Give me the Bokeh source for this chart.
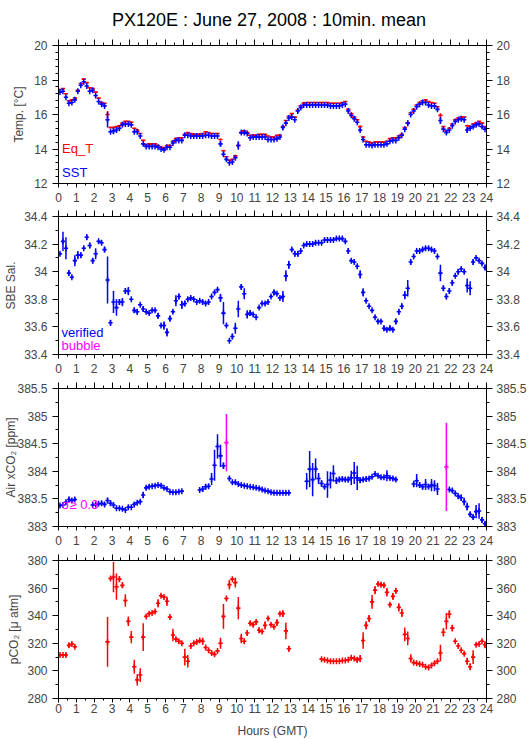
import math
from bokeh.plotting import figure
from bokeh.layouts import column
from bokeh.models import (ColumnDataSource, Range1d, LinearAxis, FixedTicker,
                          Label, NumeralTickFormatter)
from bokeh.embed import file_html
from bokeh.resources import INLINE

N = float("nan")
FONT = "Liberation Sans"

# ---------------- data (10-minute means, bin centres in minutes GMT) -------------
TIME_MIN = list(range(5, 1440, 10))
HOUR_TICKS = list(range(0, 25))

EQT = [
    17.45, 17.50, 17.20, 16.80, 16.85, 16.95,
    17.40, 17.80, 18.05, 17.85, 17.55, 17.50,
    17.30, 16.95, 16.70, 16.65, 16.00, 15.25,
    15.25, 15.30, 15.35, 15.50, 15.60, 15.60,
    15.55, 15.20, 15.10, 14.90, 14.50, 14.25,
    14.30, 14.30, 14.30, 14.20, 14.10, 14.05,
    14.20, 14.20, 14.45, 14.60, 14.65, 14.65,
    14.85, 14.95, 14.90, 14.85, 14.85, 14.85,
    14.90, 15.00, 14.95, 14.90, 14.90, 14.90,
    14.55, 13.90, 13.55, 13.35, 13.40, 13.60,
    14.20, 14.95, 15.05, 14.95, 14.80, 14.80,
    14.80, 14.85, 14.85, 14.85, 14.75, 14.70,
    14.70, 14.80, 14.80, 15.30, 15.65, 15.90,
    16.05, 15.85, 16.25, 16.50, 16.65, 16.70,
    16.70, 16.70, 16.70, 16.70, 16.70, 16.70,
    16.70, 16.65, 16.65, 16.65, 16.65, 16.70,
    16.75, 16.30, 16.05, 15.85, 15.70, 15.30,
    14.70, 14.45, 14.40, 14.35, 14.40, 14.40,
    14.40, 14.40, 14.45, 14.60, 14.65, 14.65,
    14.75, 14.85, 15.25, 15.50, 16.10, 16.30,
    16.55, 16.70, 16.80, 16.85, 16.75, 16.70,
    16.65, 16.45, 15.95, 15.30, 15.05, 15.20,
    15.45, 15.70, 15.80, 15.85, 15.85, 15.35,
    15.30, 15.45, 15.50, 15.60, 15.50, 15.30,
]
EQT_SD = [
    .03, .03, .03, .03, .03, .03,  .03, .03, .03, .03, .03, .03,
    .03, .03, .03, .03, .20, .06,  .05, .03, .03, .03, .03, .03,
    .03, .03, .03, .03, .03, .03,  .03, .03, .03, .03, .03, .03,
    .03, .03, .03, .03, .03, .03,  .03, .03, .03, .03, .03, .03,
    .03, .03, .03, .03, .03, .03,  .06, .05, .03, .03, .03, .03,
    .12, .03, .03, .03, .03, .03,  .03, .03, .03, .03, .03, .03,
    .03, .03, .03, .08, .03, .03,  .03, .03, .05, .03, .03, .03,
    .03, .03, .03, .03, .03, .03,  .03, .03, .03, .03, .03, .03,
    .03, .05, .03, .03, .03, .06,  .05, .03, .03, .03, .03, .03,
    .03, .03, .03, .03, .03, .03,  .03, .03, .03, .05, .03, .03,
    .03, .03, .03, .03, .03, .03,  .03, .03, .12, .03, .03, .03,
    .03, .03, .03, .03, .03, .06,  .05, .03, .03, .03, .03, .03,
]
SST = [
    17.30, 17.35, 17.00, 16.65, 16.70, 16.85,
    17.35, 17.70, 17.90, 17.65, 17.35, 17.40,
    17.10, 16.75, 16.60, 16.50, 15.70, 15.00,
    15.05, 15.10, 15.20, 15.40, 15.45, 15.45,
    15.40, 15.00, 15.00, 14.75, 14.30, 14.15,
    14.15, 14.15, 14.15, 14.10, 14.00, 13.95,
    14.10, 14.10, 14.35, 14.50, 14.50, 14.50,
    14.80, 14.80, 14.75, 14.75, 14.75, 14.75,
    14.75, 14.80, 14.80, 14.75, 14.75, 14.75,
    14.30, 13.70, 13.40, 13.20, 13.25, 13.50,
    14.20, 14.95, 14.95, 14.90, 14.65, 14.70,
    14.70, 14.70, 14.70, 14.70, 14.55, 14.55,
    14.55, 14.60, 14.70, 15.25, 15.50, 15.80,
    15.85, 15.70, 16.20, 16.40, 16.55, 16.55,
    16.55, 16.55, 16.55, 16.55, 16.55, 16.55,
    16.55, 16.50, 16.50, 16.50, 16.50, 16.55,
    16.60, 16.20, 15.95, 15.75, 15.55, 15.10,
    14.55, 14.25, 14.25, 14.20, 14.25, 14.25,
    14.25, 14.25, 14.30, 14.45, 14.50, 14.50,
    14.65, 14.80, 15.15, 15.50, 16.00, 16.20,
    16.45, 16.60, 16.70, 16.70, 16.55, 16.50,
    16.50, 16.30, 15.65, 15.15, 14.95, 15.10,
    15.35, 15.60, 15.70, 15.75, 15.70, 15.10,
    15.20, 15.30, 15.40, 15.45, 15.30, 15.15,
]
SST_SD = [
    .04, .04, .06, .04, .04, .05,  .08, .06, .06, .08, .04, .04,
    .06, .04, .04, .04, .45, .05,  .20, .10, .06, .05, .05, .05,
    .05, .05, .05, .04, .05, .04,  .04, .04, .04, .04, .04, .04,
    .04, .04, .08, .05, .04, .04,  .04, .04, .04, .04, .04, .04,
    .04, .04, .04, .04, .04, .04,  .15, .12, .08, .04, .08, .06,
    .25, .06, .05, .04, .04, .04,  .04, .04, .04, .04, .04, .04,
    .04, .06, .05, .12, .08, .05,  .04, .04, .12, .05, .04, .04,
    .04, .04, .04, .04, .04, .04,  .04, .04, .04, .04, .04, .04,
    .04, .08, .05, .06, .04, .10,  .10, .04, .04, .04, .04, .04,
    .04, .04, .04, .04, .04, .04,  .04, .06, .06, .15, .06, .04,
    .04, .04, .04, .04, .04, .04,  .04, .06, .20, .05, .04, .05,
    .04, .04, .04, .04, .04, .15,  .10, .05, .05, .05, .05, .04,
]

SAL = [
    34.13, 34.22, 34.17, 33.99, 33.96, 34.08,
    34.12, 34.12, 34.17, 34.25, 34.19, 34.08,
    34.13, 34.22, 34.21, 34.16, 33.94, 33.63,
    33.78, 33.74, 33.78, 33.78, 33.86, 33.86,
    33.80, 33.72, 33.71, 33.76, 33.73, 33.71,
    33.70, 33.72, 33.72, 33.68, 33.61, 33.61,
    33.56, 33.66, 33.71, 33.79, 33.82, 33.76,
    33.77, 33.80, 33.81, 33.80, 33.78, 33.79,
    33.78, 33.77, 33.78, 33.82, 33.85, 33.87,
    33.81, 33.70, 33.61, 33.50, 33.53, 33.59,
    33.73, 33.89, 33.84, 33.69, 33.70, 33.69,
    33.67, 33.74, 33.77, 33.77, 33.78, 33.82,
    33.85, 33.84, 33.81, 33.82, 33.97, 34.05,
    34.16, 34.13, 34.13, 34.15, 34.19, 34.20,
    34.20, 34.20, 34.21, 34.21, 34.21, 34.23,
    34.23, 34.23, 34.23, 34.24, 34.24, 34.24,
    34.22, 34.15, 34.08, 34.07, 34.04, 33.98,
    33.85, 33.79, 33.75, 33.72, 33.67, 33.64,
    33.64, 33.59, 33.58, 33.59, 33.58, 33.64,
    33.71, 33.75, 33.83, 33.88, 34.07, 34.11,
    34.15, 34.15, 34.16, 34.17, 34.17, 34.16,
    34.15, 34.11, 33.99, 33.88, 33.82, 33.86,
    33.92, 33.97, 34.00, 34.02, 34.00, 33.90,
    33.88, 34.07, 34.10, 34.08, 34.06, 34.03,
]
SAL_SD = [
    .01, .07, .08, .02, .01, .04,  .03, .02, .01, .02, .02, .02,
    .04, .01, .01, .02, .17, .02,  .08, .06, .02, .03, .02, .03,
    .01, .02, .02, .01, .02, .01,  .01, .01, .01, .02, .01, .03,
    .03, .02, .01, .04, .02, .03,  .02, .01, .01, .01, .01, .01,
    .01, .01, .01, .01, .01, .01,  .03, .08, .01, .01, .02, .04,
    .06, .02, .04, .03, .02, .01,  .01, .01, .01, .01, .01, .01,
    .02, .01, .01, .04, .04, .03,  .01, .02, .02, .01, .01, .01,
    .01, .01, .01, .01, .01, .01,  .01, .01, .01, .01, .01, .01,
    .01, .02, .01, .01, .01, .03,  .03, .01, .01, .01, .01, .01,
    .01, .02, .01, .02, .01, .02,  .02, .02, .03, .06, .02, .01,
    .01, .01, .01, .01, .01, .01,  .01, .01, .06, .02, .02, .02,
    .02, .01, .02, .01, .01, .05,  .05, .02, .01, .01, .01, .02,
]

AIR = [
    383.38, 383.39, 383.44, 383.49, 383.47, 383.49,
    N, N, N, N, N, 383.39,
    383.40, 383.41, 383.42, 383.40, 383.47, 383.42,
    383.39, 383.33, 383.33, 383.32, 383.30, 383.35,
    383.35, 383.40, 383.43, 383.45, 383.57, 383.70,
    383.72, 383.73, 383.74, 383.75, 383.74, 383.70,
    383.68, 383.63, 383.62, 383.62, 383.63, 383.64,
    N, N, N, N, N, 383.66,
    383.68, 383.72, 383.73, 383.86, 384.11, 384.45,
    384.28, 384.10, 384.52, 383.87, 383.80, 383.80,
    383.77, 383.75, 383.74, 383.73, 383.72, 383.71,
    383.70, 383.69, 383.67, 383.65, 383.64, 383.62,
    383.61, 383.61, 383.61, 383.61, 383.61, 383.61,
    N, N, N, N, N, 383.82,
    384.04, 383.85, 384.04, 383.87, 383.78, 383.72,
    383.76, 383.84, 383.96, 383.83, 383.85, 383.86,
    383.85, 383.85, 383.88, 383.97, 383.88, 383.84,
    383.85, 383.86, 383.87, 383.90, 383.95, 383.92,
    383.89, 383.89, 383.92, 383.88, 383.87, 383.85,
    N, N, N, N, N, 383.77,
    383.83, 383.75, 383.72, 383.76, 383.72, 383.75,
    383.74, 383.68, N, N, 384.08, 383.67,
    383.65, 383.60, 383.55, 383.52, 383.45, 383.36,
    383.22, 383.17, 383.27, 383.28, 383.12, 383.05,
]
AIR_SD = [
    .02, .02, .03, .05, .03, .03,  N, N, N, N, N, .02,
    .02, .02, .04, .03, .05, .05,  .03, .02, .02, .02, .02, .03,
    .02, .03, .03, .03, .06, .04,  .03, .02, .02, .02, .02, .02,
    .02, .02, .02, .02, .02, .02,  N, N, N, N, N, .02,
    .05, .05, .03, .11, .28, .22,  .20, .06, .52, .03, .02, .02,
    .02, .02, .02, .02, .02, .02,  .02, .02, .02, .02, .02, .02,
    .02, .02, .02, .02, .02, .02,  N, N, N, N, N, .15,
    .33, .30, .19, .10, .06, .04,  .24, .15, .15, .06, .05, .04,
    .04, .05, .13, .20, .22, .05,  .04, .04, .03, .02, .03, .02,
    .02, .02, .10, .03, .03, .03,  N, N, N, N, N, .06,
    .12, .05, .05, .10, .03, .11,  .10, .11, N, N, .80, .02,
    .02, .03, .05, .06, .07, .07,  .04, .04, .12, .14, .05, .04,
]
AIR_BUBBLE_MIN = [565, 1305]     # records flagged by the bubble check

PCO2 = [
    311.5, 311.5, 311.5, 318.5, 319.5, 317.5,
    N, N, N, N, N, N,
    N, N, N, N, 321.0, 367.0,
    368.0, 361.0, 366.5, 362.0, 351.0, 336.0,
    324.5, 303.0, 293.5, 297.0, 324.5, 339.5,
    341.5, 342.0, 343.0, 349.0, 354.5, 353.5,
    350.5, 339.0, 326.0, 323.0, 321.5, 320.0,
    310.0, 307.0, 318.0, 320.0, 321.0, 322.0,
    321.5, 317.0, 315.0, 313.0, 312.0, 314.5,
    320.0, 339.5, 352.5, 362.5, 366.5, 364.0,
    345.5, 323.5, 321.5, 327.5, 334.5, 333.5,
    335.5, 329.5, 328.5, 333.0, 338.0, 333.5,
    332.0, 335.0, 341.5, 341.5, 329.0, 316.0,
    N, N, N, N, N, N,
    N, N, N, N, 308.5, 308.0,
    307.5, 307.0, 307.0, 307.0, 307.0, 307.5,
    307.5, 308.0, 309.5, 309.0, 308.0, 309.0,
    322.0, 333.0, 338.0, 350.0, 358.5, 363.0,
    362.5, 362.0, 357.0, 348.0, 354.0, 358.0,
    346.0, 342.0, 326.5, 323.5, 309.0, 306.0,
    305.5, 305.0, 304.5, 303.0, 302.5, 304.0,
    305.5, 307.0, 313.0, 328.0, 336.0, 341.0,
    331.0, 321.5, 318.0, 315.0, 312.5, 307.0,
    303.0, 310.0, 319.0, 319.5, 321.5, 319.0,
]
PCO2_SD = [
    1.0, 1.0, 1.5, 1.5, 1.0, 1.0,  N, N, N, N, N, N,
    N, N, N, N, 18.0, 1.0,  11.0, 9.5, 2.0, 2.0, 4.5, 3.5,
    4.5, 5.0, 4.0, 5.0, 10.0, 1.0,  1.0, 1.0, 1.0, 3.0, 1.0, 1.0,
    3.5, 1.0, 4.5, 1.5, 1.0, 1.0,  6.0, 4.5, 1.5, 1.0, 1.0, 1.0,
    2.5, 1.0, 1.0, 1.0, 1.0, 1.0,  4.0, 9.0, 1.0, 3.5, 1.0, 3.5,
    8.0, 3.5, 1.5, 2.0, 1.5, 1.5,  1.5, 2.0, 1.0, 3.0, 1.0, 1.0,
    1.0, 2.5, 1.0, 2.5, 6.0, 2.0,  N, N, N, N, N, N,
    N, N, N, N, 0.5, 0.5,  0.5, 0.5, 0.5, 0.5, 0.5, 0.5,
    0.5, 0.5, 1.0, 1.0, 2.0, 2.5,  6.0, 3.0, 2.5, 5.0, 3.0, 1.0,
    1.5, 1.5, 3.0, 1.0, 2.5, 2.0,  3.0, 3.0, 5.0, 5.0, 3.0, 1.0,
    1.0, 0.5, 0.5, 0.5, 0.5, 0.5,  1.0, 1.0, 6.0, 3.0, 6.0, 3.0,
    2.5, 1.0, 1.0, 1.0, 1.0, 2.5,  2.5, 5.0, 1.0, 1.0, 1.0, 2.5,
]

TITLE = "PX120E : June 27, 2008 : 10min. mean"
YLABELS = ["Temp. [°C]", "SBE Sal.", "Air xCO₂ [ppm]", "pCO₂ [μ atm]"]
XLABEL = "Hours (GMT)"

RED = "#ff0000"
BLUE = "#0000ff"
MAGENTA = "#ff00ff"

HOURS = [m / 60.0 for m in TIME_MIN]
HALF_BIN_H = 0.12   # half width of the horizontal bar of each "+" (hours)

FRAME_L, FRAME_W, BORDER_R = 58, 428, 43
TITLE_H = 34


def make_fig(yr, ymaj, ymin, top, bottom, ylabel, ylabel_standoff,
             xlabel_standoff=5, xlabel=None, xlabel_gap=0):
    p = figure(frame_width=FRAME_W, frame_height=138,
               x_range=Range1d(0, 24), y_range=Range1d(*yr),
               output_backend="svg", toolbar_location=None,
               x_axis_location=None, y_axis_location=None,
               min_border_left=FRAME_L, min_border_right=BORDER_R,
               min_border_top=top, min_border_bottom=bottom)
    p.grid.visible = False
    p.outline_line_color = "black"
    p.outline_line_width = 1
    p.background_fill_color = "white"
    p.border_fill_color = "white"
    for loc in ("below", "above"):
        ax = LinearAxis(ticker=FixedTicker(ticks=HOUR_TICKS,
                                           minor_ticks=[h + 0.5 for h in range(24)]))
        ax.axis_line_color = "black"
        ax.major_tick_line_color = "black"
        ax.minor_tick_line_color = "black"
        ax.major_tick_in = 0
        ax.minor_tick_in = 0
        ax.major_label_text_font = FONT
        ax.major_label_text_font_size = "12px"
        if loc == "above":
            ax.major_tick_out = 6
            ax.minor_tick_out = 3
            ax.major_label_text_color = None
            ax.major_label_standoff = 0
        else:
            ax.major_tick_out = 4
            ax.minor_tick_out = 2
            ax.major_label_standoff = xlabel_standoff
            if xlabel:
                ax.axis_label = xlabel
                ax.axis_label_text_font = FONT
                ax.axis_label_text_font_size = "12px"
                ax.axis_label_text_font_style = "normal"
                ax.axis_label_standoff = xlabel_gap
        p.add_layout(ax, loc)
    for loc in ("left", "right"):
        ax = LinearAxis(ticker=FixedTicker(ticks=ymaj, minor_ticks=ymin),
                        formatter=NumeralTickFormatter(format="0.[0]"))
        ax.axis_line_color = "black"
        ax.major_tick_line_color = "black"
        ax.minor_tick_line_color = "black"
        ax.major_tick_in = 0
        ax.minor_tick_in = 0
        ax.major_tick_out = 6
        ax.minor_tick_out = 3
        ax.major_label_text_font = FONT
        ax.major_label_text_font_size = "12px"
        ax.major_label_standoff = 5 if loc == "left" else 4
        if loc == "left":
            ax.axis_label = ylabel
            ax.axis_label_text_font = FONT
            ax.axis_label_text_font_size = "12px"
            ax.axis_label_text_font_style = "normal"
            ax.axis_label_standoff = ylabel_standoff
        p.add_layout(ax, loc)
    return p


def crosses(p, vals, sds, color, mark=True, colors=None):
    xs, ys, lo, hi, x0, x1, cs = [], [], [], [], [], [], []
    for i, (h, v, s) in enumerate(zip(HOURS, vals, sds)):
        if v != v:
            continue
        xs.append(h); ys.append(v)
        lo.append(v - s); hi.append(v + s)
        x0.append(h - HALF_BIN_H); x1.append(h + HALF_BIN_H)
        cs.append(colors[i] if colors else color)
    src = ColumnDataSource(dict(x=xs, y=ys, lo=lo, hi=hi, x0=x0, x1=x1, c=cs))
    p.segment(x0="x0", y0="y", x1="x1", y1="y", source=src,
              line_color="c", line_width=1.6)
    p.segment(x0="x", y0="lo", x1="x", y1="hi", source=src,
              line_color="c", line_width=1.5)
    if mark:
        p.scatter(x="x", y="y", marker="dash", angle=math.pi / 2, size=6,
                  line_color="c", line_width=1.5, source=src)


def text(p, x, y, s, color="black", size="13px"):
    p.add_layout(Label(x=x, y=y, text=s, text_color=color, text_font=FONT,
                       text_font_size=size, text_align="left",
                       text_baseline="middle"))


# ---------------- title strip (x range in page pixels, y from strip bottom) -------
pt = figure(frame_width=FRAME_W, frame_height=TITLE_H,
            x_range=Range1d(FRAME_L, FRAME_L + FRAME_W), y_range=Range1d(0, TITLE_H),
            output_backend="svg", toolbar_location=None,
            x_axis_location=None, y_axis_location=None,
            min_border_left=FRAME_L, min_border_right=BORDER_R,
            min_border_top=0, min_border_bottom=0)
pt.grid.visible = False
pt.outline_line_color = None
pt.add_layout(Label(x=268.5, y=TITLE_H - 19, text=TITLE, text_align="center",
                    text_baseline="alphabetic", text_font=FONT,
                    text_font_size="18px", text_color="black"))

# ---------------- panel 1: temperature ----------------
p1 = make_fig((12, 20), [12, 14, 16, 18, 20],
              [12 + 0.4 * i for i in range(21) if i % 5], 45 - TITLE_H, 23,
              YLABELS[0], 5)
crosses(p1, EQT, EQT_SD, RED, mark=False)
crosses(p1, SST, SST_SD, BLUE)
text(p1, 0.2, 14.03, "Eq_T", RED)
text(p1, 0.2, 12.64, "SST", BLUE)

# ---------------- panel 2: salinity ----------------
p2 = make_fig((33.4, 34.4), [33.4, 33.6, 33.8, 34.0, 34.2, 34.4],
              [33.5, 33.7, 33.9, 34.1, 34.3], 10, 23, YLABELS[1], 3)
crosses(p2, SAL, SAL_SD, BLUE)
text(p2, 0.17, 33.56, "verified", BLUE)
text(p2, 0.17, 33.465, "bubble", MAGENTA)

# ---------------- panel 3: air xCO2 ----------------
p3 = make_fig((383, 385.5), [383, 383.5, 384, 384.5, 385, 385.5],
              [383.25, 383.75, 384.25, 384.75, 385.25], 11, 23, YLABELS[2], -4)
air_cols = [MAGENTA if m in AIR_BUBBLE_MIN else BLUE for m in TIME_MIN]
crosses(p3, AIR, AIR_SD, BLUE, colors=air_cols)
text(p3, 0.17, 383.4, "σ≥ 0.3", MAGENTA)

# ---------------- panel 4: pCO2 ----------------
p4 = make_fig((280, 380), [280, 300, 320, 340, 360, 380],
              [290, 310, 330, 350, 370], 11, 40, YLABELS[3], 3,
              xlabel_standoff=1, xlabel=XLABEL, xlabel_gap=8)
crosses(p4, PCO2, PCO2_SD, RED)

layout = column(pt, p1, p2, p3, p4, spacing=0)
open("out.html", "w").write(file_html(layout, INLINE, title="PX120E"))
